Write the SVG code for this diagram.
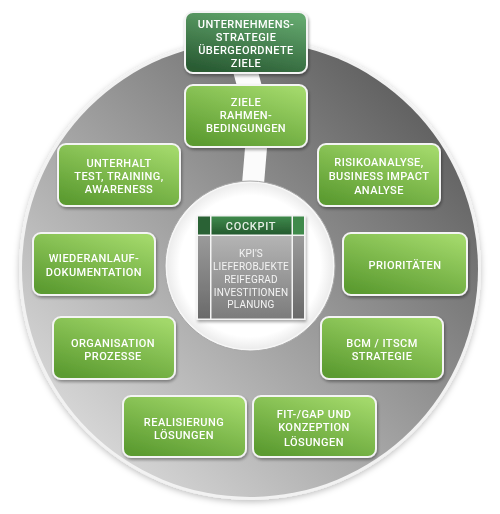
<svg xmlns="http://www.w3.org/2000/svg" width="500" height="514" viewBox="0 0 500 514">
<defs>
<linearGradient id="disc" x1="0.15" y1="0.85" x2="0.85" y2="0.15">
<stop offset="0" stop-color="#d4d4d4"/>
<stop offset="0.5" stop-color="#9c9c9c"/>
<stop offset="1" stop-color="#636363"/>
</linearGradient>
<linearGradient id="gbox" x1="0.2" y1="1" x2="0.8" y2="0">
<stop offset="0" stop-color="#5b9b30"/>
<stop offset="1" stop-color="#a2d86a"/>
</linearGradient>
<linearGradient id="dbox" x1="0.3" y1="1" x2="0.7" y2="0">
<stop offset="0" stop-color="#295b33"/>
<stop offset="1" stop-color="#64a86e"/>
</linearGradient>
<linearGradient id="hdr" x1="0" y1="0" x2="0" y2="1">
<stop offset="0" stop-color="#3f8a4c"/>
<stop offset="1" stop-color="#245a2e"/>
</linearGradient>
<linearGradient id="body" x1="0" y1="0" x2="0" y2="1">
<stop offset="0" stop-color="#b4b4b4"/>
<stop offset="1" stop-color="#7c7c7c"/>
</linearGradient>
<linearGradient id="side" x1="0" y1="0" x2="0" y2="1">
<stop offset="0" stop-color="#9a9a9a"/>
<stop offset="1" stop-color="#6a6a6a"/>
</linearGradient>
<radialGradient id="inner" cx="0.5" cy="0.5" r="0.5">
<stop offset="0.85" stop-color="#ffffff"/>
<stop offset="1" stop-color="#ececec"/>
</radialGradient>
<filter id="sh" x="-20%" y="-20%" width="140%" height="150%">
<feDropShadow dx="1" dy="2" stdDeviation="1.8" flood-color="#000" flood-opacity="0.35"/>
</filter>
<filter id="sh2" x="-10%" y="-10%" width="120%" height="120%">
<feDropShadow dx="0" dy="2" stdDeviation="3" flood-color="#000" flood-opacity="0.25"/>
</filter>
</defs>
<style>
.box{fill:url(#gbox);stroke:#f4f4f4;stroke-width:2}
.dark{fill:url(#dbox);stroke:#f4f4f4;stroke-width:2}
.t{font-family:Roboto,"Liberation Sans",Arial,sans-serif;font-weight:500;font-size:11px;letter-spacing:0.45px;fill:#ffffff;text-anchor:middle}
.c{font-family:Roboto,"Liberation Sans",Arial,sans-serif;font-size:10px;letter-spacing:0.2px;fill:#f4f4f4;text-anchor:middle}
.band{fill:#fbfbfb}
</style>
<rect width="500" height="514" fill="#ffffff"/>
<g id="ring">
<circle cx="250" cy="269" r="231" fill="#f2f2f2" filter="url(#sh2)"/>
<circle cx="250" cy="269" r="228" fill="url(#disc)"/>
</g>
<g id="connectors">
<polygon class="band" points="232,68 257,68 263,90 238,90"/>
<polygon class="band" points="245.5,142 267.5,142 263.5,190 241.5,190"/>
</g>
<g id="center">
<circle cx="250" cy="266" r="85" fill="#f6f6f6" stroke="#a8a8a8" stroke-width="1"/>
<circle cx="250" cy="266" r="83" fill="url(#inner)"/>
</g>
<g id="cockpit" filter="url(#sh)">
<rect x="196.5" y="215" width="109" height="105" fill="#f4f4f4"/>
<rect x="198" y="216.5" width="12" height="18" fill="#2a6234"/>
<rect x="211.5" y="216.5" width="80" height="18" fill="url(#hdr)"/>
<rect x="293" y="216.5" width="11" height="18" fill="#3f8a4c"/>
<rect x="198" y="236" width="12" height="82.5" fill="url(#side)"/>
<rect x="211.5" y="236" width="80" height="82.5" fill="url(#body)"/>
<rect x="293" y="236" width="11" height="82.5" fill="url(#side)"/>
<text class="t" x="251" y="229.5" style="fill:#e6efe6;letter-spacing:0.7px">COCKPIT</text>
<text class="c" x="251" y="256.5">KPI'S</text>
<text class="c" x="251" y="269.5">LIEFEROBJEKTE</text>
<text class="c" x="251" y="282.5">REIFEGRAD</text>
<text class="c" x="251" y="295.5">INVESTITIONEN</text>
<text class="c" x="251" y="308">PLANUNG</text>
</g>
<g id="strategie" filter="url(#sh)">
<rect class="dark" x="185" y="12" width="122" height="61" rx="8"/>
<text class="t" x="246" y="28">UNTERNEHMENS-</text>
<text class="t" x="246" y="41">STRATEGIE</text>
<text class="t" x="246" y="54">ÜBERGEORDNETE</text>
<text class="t" x="246" y="67">ZIELE</text>
</g>
<g id="ziele" filter="url(#sh)">
<rect class="box" x="185" y="85" width="122" height="62" rx="8"/>
<text class="t" x="246" y="106">ZIELE</text>
<text class="t" x="246" y="119">RAHMEN-</text>
<text class="t" x="246" y="132">BEDINGUNGEN</text>
</g>
<g id="risiko" filter="url(#sh)">
<rect class="box" x="318" y="144" width="122" height="62" rx="8"/>
<text class="t" x="379" y="166">RISIKOANALYSE,</text>
<text class="t" x="379" y="180">BUSINESS IMPACT</text>
<text class="t" x="379" y="194">ANALYSE</text>
</g>
<g id="prioritaeten" filter="url(#sh)">
<rect class="box" x="343" y="233" width="124" height="62" rx="8"/>
<text class="t" x="405" y="269">PRIORITÄTEN</text>
</g>
<g id="bcm" filter="url(#sh)">
<rect class="box" x="321" y="317" width="122" height="62" rx="8"/>
<text class="t" x="382" y="347">BCM / ITSCM</text>
<text class="t" x="382" y="360">STRATEGIE</text>
</g>
<g id="fitgap" filter="url(#sh)">
<rect class="box" x="253" y="396" width="123" height="61" rx="8"/>
<text class="t" x="314" y="418">FIT-/GAP UND</text>
<text class="t" x="314" y="431">KONZEPTION</text>
<text class="t" x="314" y="446">LÖSUNGEN</text>
</g>
<g id="realisierung" filter="url(#sh)">
<rect class="box" x="123" y="396" width="123" height="61" rx="8"/>
<text class="t" x="184" y="426">REALISIERUNG</text>
<text class="t" x="184" y="439">LÖSUNGEN</text>
</g>
<g id="organisation" filter="url(#sh)">
<rect class="box" x="53" y="317" width="122" height="62" rx="8"/>
<text class="t" x="113" y="347">ORGANISATION</text>
<text class="t" x="113" y="360">PROZESSE</text>
</g>
<g id="wiederanlauf" filter="url(#sh)">
<rect class="box" x="33" y="233" width="122" height="62" rx="8"/>
<text class="t" x="94" y="262">WIEDERANLAUF-</text>
<text class="t" x="94" y="276">DOKUMENTATION</text>
</g>
<g id="unterhalt" filter="url(#sh)">
<rect class="box" x="58" y="144" width="122" height="62" rx="8"/>
<text class="t" x="119" y="167">UNTERHALT</text>
<text class="t" x="119" y="180">TEST, TRAINING,</text>
<text class="t" x="119" y="193">AWARENESS</text>
</g>
</svg>
